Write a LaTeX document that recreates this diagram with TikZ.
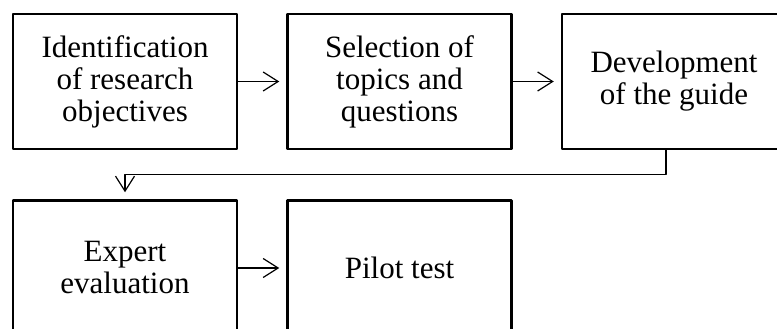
\documentclass[tikz,border=0pt]{standalone}
\usepackage{fontspec}
\setmainfont{Liberation Serif}
\usetikzlibrary{positioning,arrows.meta}
\begin{document}
\begin{tikzpicture}[>={Straight Barb[length=15pt,width=19pt]},line join=round,
  font=\rmfamily\fontsize{31pt}{32pt}\selectfont,
  stepbox/.style={draw,line width=2.5pt,minimum width=224pt,minimum height=135pt,align=center,inner sep=0pt},
  link/.style={->,line width=1.2pt,shorten >=7pt}]
\path[use as bounding box,clip] (0,0) rectangle (777pt,-329pt);
\node[stepbox] (ident) at (125pt,-81.5pt) {Identification\\of research\\objectives};
\node[stepbox,right=48pt of ident] (topics) {Selection of\\topics and\\questions};
\node[stepbox,right=48pt of topics] (dev) {Development\\of the guide};
\node[stepbox,below=49pt of ident] (exp) {Expert\\evaluation};
\node[stepbox,right=48pt of exp] (pilot) {Pilot test};
\draw[link] (ident) -- (topics);
\draw[link] (topics) -- (dev);
\draw[link] ([xshift=-8pt]dev.south) -- ++(0,-24pt) -| (exp.north);
\draw[link] (exp) -- (pilot);
\end{tikzpicture}
\end{document}
